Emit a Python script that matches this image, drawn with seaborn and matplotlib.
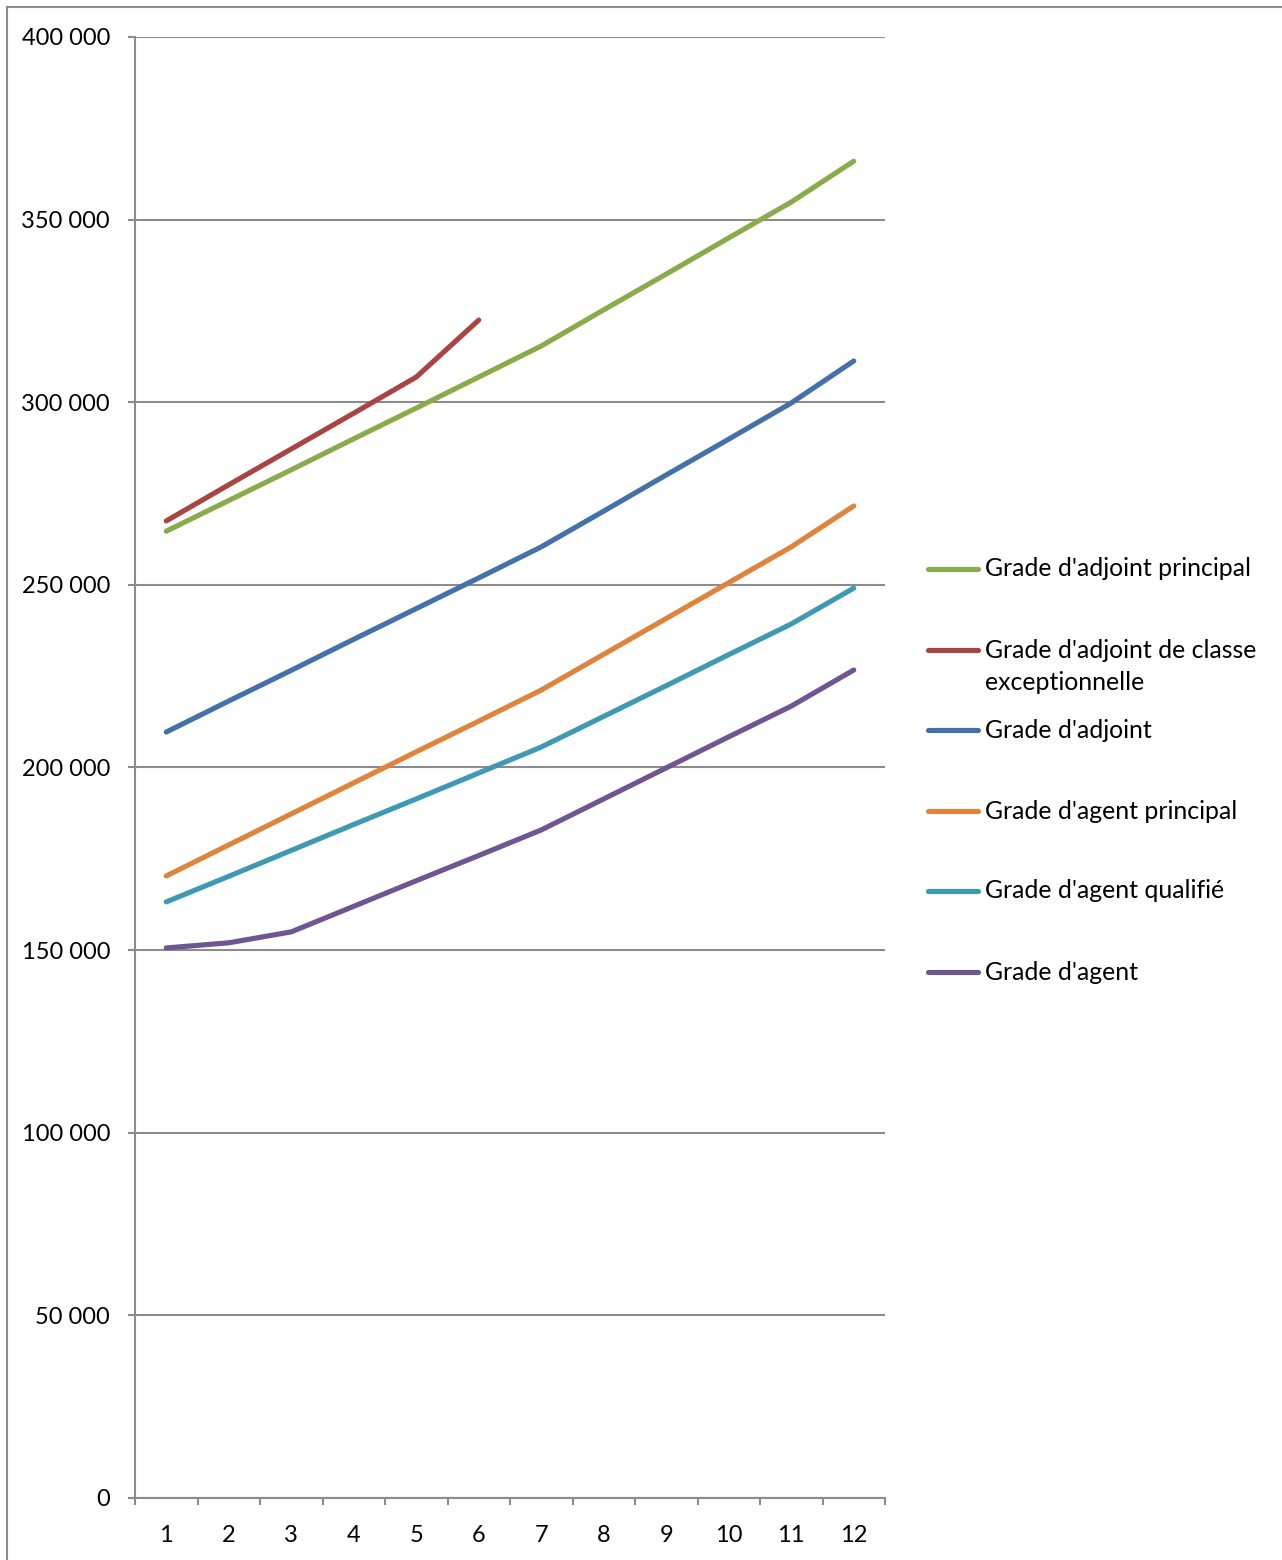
import numpy as np
import pandas as pd
import matplotlib
matplotlib.use("Agg")
import matplotlib.pyplot as plt
from matplotlib.ticker import FuncFormatter, FixedLocator
from matplotlib.lines import Line2D
from matplotlib.patches import Rectangle
import seaborn as sns

# Échelons 1 à 12
echelons = list(range(1, 13))

# Traitement annuel par grade et par échelon
adjoint_principal = [264700, 273100, 281500, 290000, 298400, 306900, 315400,
                     325300, 335100, 345000, 354800, 366000]
adjoint_classe_exc = [267500, 277400, 287200, 297000, 306900, 322500]
adjoint = [209700, 218200, 226600, 235100, 243500, 251900, 260400,
           270200, 280100, 289900, 299800, 311300]
agent_principal = [170300, 178800, 187300, 195800, 204300, 212700, 221200,
                   231000, 240800, 250600, 260400, 271600]
agent_qualifie = [163200, 170200, 177300, 184400, 191400, 198500, 205600,
                  214000, 222400, 230900, 239300, 249100]
agent = [150600, 152000, 155000, 162000, 169000, 175900, 182900,
         191400, 199900, 208400, 216800, 226700]

series_names = [
    "Grade d'adjoint principal",
    "Grade d'adjoint de classe\nexceptionnelle",
    "Grade d'adjoint",
    "Grade d'agent principal",
    "Grade d'agent qualifié",
    "Grade d'agent",
]
series_values = [adjoint_principal, adjoint_classe_exc, adjoint,
                 agent_principal, agent_qualifie, agent]
colors = ["#8AAB4A", "#AA4440", "#4471A9", "#E0843D", "#3F99B2", "#6F5591"]

rows = []
for name, vals in zip(series_names, series_values):
    for e, v in zip(echelons, vals):
        rows.append({"echelon": e, "valeur": v, "grade": name})
df = pd.DataFrame(rows)

sns.set_theme(style="white")
plt.rcParams["font.family"] = ["Lato", "DejaVu Sans"]

W, H = 1282, 1560
fig = plt.figure(figsize=(W / 100, H / 100), dpi=100)
ax = fig.add_axes([135 / W, 1 - 1498 / H, 750 / W, 1461 / H])

grid_color = "#8C8C8C"
tick_size = 17
legend_size = 17.9
ax.set_axisbelow(True)
ax.yaxis.grid(True, color=grid_color, linewidth=1.5)
ax.xaxis.grid(False)

sns.lineplot(data=df, x="echelon", y="valeur", hue="grade",
             hue_order=series_names, palette=dict(zip(series_names, colors)),
             linewidth=3.7, sort=False, legend=False, ax=ax,
             solid_capstyle="round", solid_joinstyle="round")

ax.set_xlim(0.5, 12.5)
ax.set_ylim(0, 400000)
ax.set_xlabel("")
ax.set_ylabel("")

ax.yaxis.set_major_locator(FixedLocator(np.arange(0, 400001, 50000)))
ax.yaxis.set_major_formatter(
    FuncFormatter(lambda v, p: f"{int(v):,}".replace(",", " ")))

# Catégories centrées, graduations entre catégories
ax.xaxis.set_major_locator(FixedLocator(np.arange(0.5, 12.6, 1.0)))
ax.xaxis.set_major_formatter(FuncFormatter(lambda v, p: ""))
ax.xaxis.set_minor_locator(FixedLocator(echelons))
ax.xaxis.set_minor_formatter(FuncFormatter(lambda v, p: f"{int(round(v))}"))

ax.tick_params(axis="x", which="major", direction="out", length=5,
               width=1.5, color=grid_color, bottom=True)
ax.tick_params(axis="x", which="minor", length=0, labelsize=tick_size,
               pad=19.5, labelcolor="black")
ax.tick_params(axis="y", which="major", direction="out", length=5,
               width=1.5, color=grid_color, left=True, labelsize=tick_size,
               pad=13, labelcolor="black")

for s in ["top", "right"]:
    ax.spines[s].set_visible(False)
for s in ["left", "bottom"]:
    ax.spines[s].set_color(grid_color)
    ax.spines[s].set_linewidth(1.5)

# Légende à droite du graphique
legend_y = [569, 650, 730, 811, 891, 972]
for name, col, yp in zip(series_names, colors, legend_y):
    yf = 1 - yp / H
    fig.add_artist(Line2D([928 / W, 978 / W], [yf, yf], color=col,
                          linewidth=3.7, solid_capstyle="round"))
    lines = name.split("\n")
    fig.text(985 / W, yf, lines[0], fontsize=legend_size, va="center",
             ha="left", color="black")
    if len(lines) > 1:
        fig.text(985 / W, 1 - 682 / H, lines[1], fontsize=legend_size,
                 va="center", ha="left", color="black")

# Cadre de la zone de graphique
fig.add_artist(Rectangle((7 / W, -0.05), 1.2, 1 - 7 / H + 0.05,
                         transform=fig.transFigure, fill=False,
                         edgecolor="#8C8C8C", linewidth=1.5))

fig.savefig("out.png", dpi=100, facecolor="white")
